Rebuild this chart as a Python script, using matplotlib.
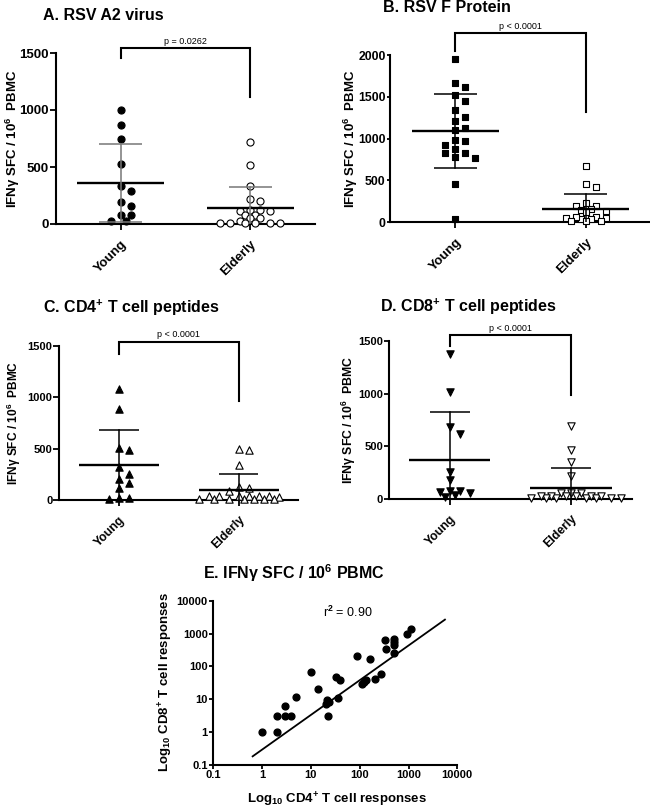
import numpy as np
import matplotlib
matplotlib.use('Agg')
import matplotlib.pyplot as plt
from matplotlib.ticker import NullLocator

plt.rcParams['font.family'] = ['Liberation Sans', 'DejaVu Sans']
plt.rcParams['font.weight'] = 'bold'
plt.rcParams['mathtext.fontset'] = 'custom'
plt.rcParams['mathtext.rm'] = 'Liberation Sans'
plt.rcParams['mathtext.bf'] = 'Liberation Sans:bold'
plt.rcParams['mathtext.it'] = 'Liberation Sans:italic'

# ---------------- data ----------------
groups = ['Young', 'Elderly']

a_young = [1000, 870, 745, 530, 335, 290, 195, 160, 75, 75, 30, 30]
a_elderly = [715, 520, 330, 215, 200, 120, 115, 110, 120, 80, 80, 50, 50, 30,
             10, 10, 10, 10, 10, 10]

b_young = [1950, 1670, 1622, 1526, 1455, 1343, 1263, 1215, 1132, 1100, 976, 984,
           924, 873, 833, 833, 785, 769, 462, 44]
b_elderly = [673, 426, 454, 227, 199, 199, 159, 139, 147, 120, 68, 48, 48, 40,
             40, 68, 20, 20, 10]

c_young = [1078, 883, 510, 484, 318, 253, 201, 162, 114, 23, 16, 6]
c_elderly = [500, 490, 340, 130, 115, 90, 38, 6, 36, 5, 35, 5, 35, 5, 34, 5,
             36, 5, 40, 5]

d_young = [1376, 1012, 679, 615, 254, 178, 76, 60, 19, 35, 57, 76]
d_elderly = [690, 460, 345, 220, 57, 57, 57, 28, 6, 28, 6, 28, 6, 28, 6, 28, 6,
             30, 5, 5]

p_values = ['p = 0.0262', 'p < 0.0001', 'p < 0.0001', 'p < 0.0001']

e_cd4 = [1, 2, 2, 3, 3, 4, 5, 10, 14, 21, 24, 20, 36, 22, 32, 40, 88, 160,
         120, 133, 114, 205, 270, 325, 350, 500, 500, 500, 510, 910, 1100]
e_cd8 = [1, 1, 3, 6, 3, 3, 12, 70, 20, 9.3, 8.3, 7, 11, 3, 48, 38, 210, 165,
         34, 40, 30, 42, 60, 660, 335, 700, 560, 450, 250, 1000, 1350]
e_fit_x = [0.64, 5580]
e_fit_y = [0.18, 2700]
e_r2 = '0.90'
log_ticks = [0.1, 1, 10, 100, 1000, 10000]
log_labels = ['0.1', '1', '10', '100', '1000', '10000']

# ---------------- figure ----------------
W, H = 650, 809
fig = plt.figure(figsize=(W / 100, H / 100), dpi=100)


def fx(px):
    return px / W


def fy(py):
    return 1 - py / H


def need_dy(dx_px):
    if dx_px < 4:
        return 7.0
    if dx_px < 9:
        return 2.2
    return 0.0


def swarm(vals, ppu, step_px=5.0):
    order = np.argsort(-np.asarray(vals), kind='stable')
    placed = []
    offs = np.zeros(len(vals))
    cands = [0]
    for k in range(1, 12):
        cands += [2 * k, -2 * k, 2 * k - 1, -(2 * k - 1)]
    for i in order:
        y = vals[i] * ppu
        for c in cands:
            ok = True
            for (pc, py) in placed:
                if abs(py - y) < need_dy(abs(pc - c) * step_px):
                    ok = False
                    break
            if ok:
                break
        placed.append((c, y))
        offs[i] = c
    return offs * step_px


ylabel_txt = r'IFNγ SFC / 10$^{\mathbf{6}}$  PBMC'

panels = [
    dict(young=a_young, elderly=a_elderly, rect_px=(56, 53, 315, 224), ymax=1500,
         yticks=[0, 500, 1000, 1500], marker='o', s=26,
         title='A. RSV A2 virus', title_px=(43, 15), ylab_x=13, ylab_fs=9.5,
         tick_fs=9.5, tick_len=4.2, xlab_fs=9.5,
         bracket=(1541, 1453, 1111), ptext=p_values[0], sd_color='#777777'),
    dict(young=b_young, elderly=b_elderly, rect_px=(390, 55, 651, 222.3), ymax=2000,
         yticks=[0, 500, 1000, 1500, 2000], marker='s', s=24,
         title='B. RSV F Protein', title_px=(383, 8), ylab_x=351, ylab_fs=9.5,
         tick_fs=8.8, tick_len=2.3, xlab_fs=9.5,
         bracket=(2258, 2050, 1322), ptext=p_values[1], sd_color='black'),
    dict(young=c_young, elderly=c_elderly, rect_px=(59.3, 346, 298.3, 500), ymax=1500,
         yticks=[0, 500, 1000, 1500], marker='^', s=28,
         title=r'C. CD4$^{\mathbf{+}}$ T cell peptides', title_px=(43, 308), ylab_x=14,
         ylab_fs=8.6, tick_fs=8.0, tick_len=4.2, xlab_fs=8.8,
         bracket=(1542, 1422, 967), ptext=p_values[2], sd_color='black'),
    dict(young=d_young, elderly=d_elderly, rect_px=(389, 341, 631.7, 498.7), ymax=1500,
         yticks=[0, 500, 1000, 1500], marker='v', s=28,
         title=r'D. CD8$^{\mathbf{+}}$ T cell peptides', title_px=(380, 307), ylab_x=349,
         ylab_fs=8.8, tick_fs=8.0, tick_len=3.5, xlab_fs=8.8,
         bracket=(1557, 1452, 986), ptext=p_values[3], sd_color='black'),
]

for P in panels:
    x0, y0, x1, y1 = P['rect_px']
    ax = fig.add_axes([fx(x0), fy(y1), (x1 - x0) / W, (y1 - y0) / H])
    ax.set_xlim(-0.5, 1.5)
    ax.set_ylim(0, P['ymax'])
    w_px, h_px = x1 - x0, y1 - y0
    ppu = h_px / P['ymax']
    upx = 2.0 / w_px  # data units per pixel in x
    for i, vals in enumerate([P['young'], P['elderly']]):
        vals = np.asarray(vals, float)
        offs = swarm(vals, ppu) * upx
        ax.scatter(i + offs, vals, marker=P['marker'], s=P['s'],
                   facecolor='black' if i == 0 else 'white', edgecolor='black',
                   linewidth=0.8, clip_on=False, zorder=3)
        m = vals.mean()
        sd = vals.std(ddof=1)
        ax.plot([i - 0.335, i + 0.335], [m, m], color='black', lw=1.7, zorder=4,
                solid_capstyle='butt')
        ax.plot([i, i], [max(m - sd, 0), m + sd], color=P['sd_color'], lw=1.1, zorder=4)
        for yy in (m + sd, m - sd):
            if yy > 0:
                ax.plot([i - 0.165, i + 0.165], [yy, yy], color=P['sd_color'], lw=1.1,
                        zorder=4, solid_capstyle='butt')
    top, lb, rb = P['bracket']
    ax.plot([0, 0, 1, 1], [lb, top, top, rb], color='black', lw=1.5, clip_on=False,
            solid_joinstyle='miter')
    ax.text(0.5, top + 2.5 / ppu, P['ptext'], ha='center',
            va='bottom', fontsize=6.5, fontweight='normal')
    for sp in ('top', 'right'):
        ax.spines[sp].set_visible(False)
    for sp in ('left', 'bottom'):
        ax.spines[sp].set_linewidth(1.5)
    ax.set_yticks(P['yticks'])
    ax.set_xticks([0, 1])
    ax.set_xticklabels(groups, rotation=45, ha='right', va='top',
                       rotation_mode='anchor', fontsize=P['xlab_fs'], fontweight='bold')
    ax.tick_params(axis='y', direction='out', length=P['tick_len'], width=1.3,
                   labelsize=P['tick_fs'], pad=0.8)
    ax.tick_params(axis='x', direction='out', length=4, width=1.3, pad=6)
    fig.text(fx(P['title_px'][0]), fy(P['title_px'][1]), P['title'], ha='left',
             va='center', fontsize=11.5, fontweight='bold')
    fig.text(fx(P['ylab_x']), fy((y0 + y1) / 2), ylabel_txt, rotation=90, ha='center',
             va='center', fontsize=P['ylab_fs'], fontweight='bold')

# ---------------- panel E ----------------
axE = fig.add_axes([fx(213.3), fy(764.7), (457.3 - 213.3) / W, (764.7 - 601) / H])
axE.set_xscale('log')
axE.set_yscale('log')
axE.set_xlim(0.1, 10000)
axE.set_ylim(0.1, 10000)
axE.scatter(e_cd4, e_cd8, s=24, color='black', clip_on=False, zorder=3)
axE.plot(e_fit_x, e_fit_y, color='black', lw=1.3, zorder=2)
axE.set_xticks(log_ticks)
axE.set_xticklabels(log_labels)
axE.set_yticks(log_ticks)
axE.set_yticklabels(log_labels)
axE.xaxis.set_minor_locator(NullLocator())
axE.yaxis.set_minor_locator(NullLocator())
for sp in ('top', 'right'):
    axE.spines[sp].set_visible(False)
for sp in ('left', 'bottom'):
    axE.spines[sp].set_linewidth(1.5)
axE.tick_params(direction='out', length=3, width=1.3, labelsize=8, pad=1)
fig.text(fx(203), fy(573), r'E. IFNγ SFC / 10$^{\mathbf{6}}$ PBMC', ha='left',
         va='center', fontsize=11.5, fontweight='bold')
fig.text(fx(348), fy(612), r'r$^{2}$ = ' + e_r2, ha='center', va='center',
         fontsize=9, fontweight='normal')
fig.text(fx(337), fy(800), r'Log$_{\mathbf{10}}$ CD4$^{\mathbf{+}}$ T cell responses',
         ha='center', va='center', fontsize=9.5, fontweight='bold')
fig.text(fx(166), fy(682), r'Log$_{\mathbf{10}}$ CD8$^{\mathbf{+}}$ T cell responses',
         ha='center', va='center', rotation=90, fontsize=9.5, fontweight='bold')

fig.savefig('out.png', dpi=100, facecolor='white')
